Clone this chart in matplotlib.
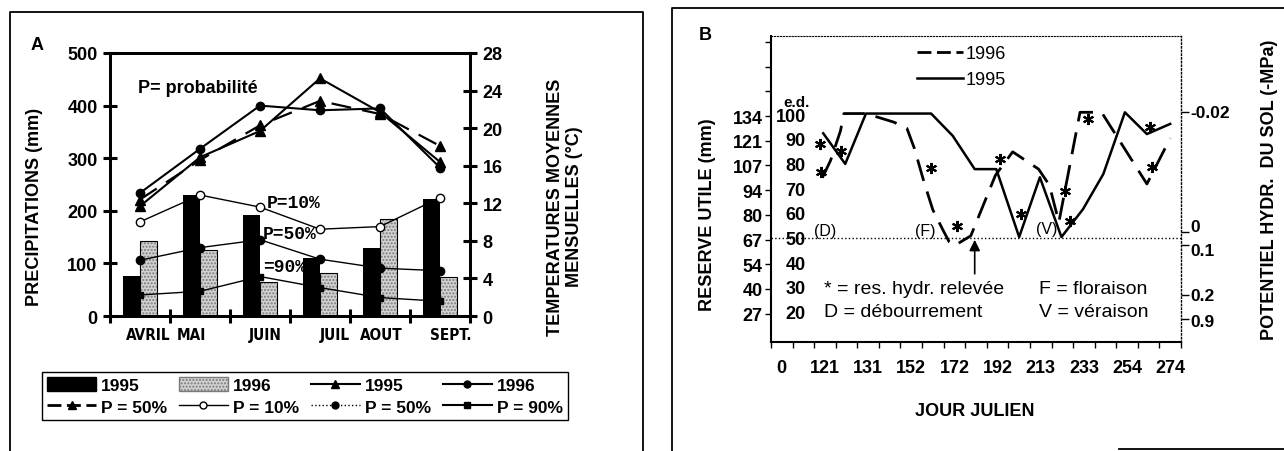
import numpy as np
import matplotlib.pyplot as plt
import matplotlib.transforms as mtransforms
from matplotlib import font_manager
from matplotlib.lines import Line2D
from matplotlib.patches import Patch

plt.rcParams['font.family'] = ['Liberation Sans', 'DejaVu Sans']
plt.rcParams['font.weight'] = 'bold'
fonts = font_manager.fontManager.ttflist
has_narrow = any(f.name == 'Liberation Sans Narrow' for f in fonts)
has_cond = any(f.name == 'DejaVu Sans' and f.stretch == 'condensed' and f.weight == 700
               for f in fonts)

# panel A: monthly rain (mm) and mean temperature (deg C)
months = ['AVRIL', 'MAI', 'JUIN', 'JUIL', 'AOUT', 'SEPT.']
rain_1995 = [76, 230, 192, 110, 130, 222]
rain_1996 = [143, 125, 65, 82, 184, 74]
rain_p10 = [179, 230, 207, 165, 170, 225]
rain_p50 = [106, 130, 145, 108, 91, 86]
rain_p90 = [40, 47, 75, 54, 35, 28]
temp_1995 = [11.7, 16.9, 19.7, 25.3, 21.7, 16.4]
temp_1996 = [13.1, 17.8, 22.4, 21.9, 22.1, 15.8]
temp_p50 = [12.4, 16.6, 20.3, 22.9, 21.5, 18.1]

# panel B: water reserve on the e.d. scale, x = position on the julian day axis
day_labels = ['0', '121', '131', '152', '172', '192', '213', '233', '254', '274']
x_1995 = [0.96, 1.47, 1.95, 3.46, 3.96, 4.47, 4.97, 5.50, 5.98, 6.48, 6.98, 7.45, 7.95, 8.46, 9.0]
ed_1995 = [93, 80.6, 101, 101, 92, 78.5, 78.5, 51, 75.2, 51, 62.3, 76.5, 101.5, 92.7, 96.8]
x_1996 = [0.94, 1.13, 1.36, 1.44, 1.95, 2.6, 2.9, 3.07, 3.3, 3.5, 3.73, 3.88, 4.0, 4.38,
          4.95, 5.35, 5.95, 6.2, 6.42, 6.91, 7.41, 8.46, 9.0]
ed_1996 = [75, 82, 94, 101, 101, 97.5, 95, 87, 73, 62, 54, 49, 47.5, 51.5,
           76, 85.5, 78.5, 72, 57, 101.5, 101.5, 72.5, 91]
star_x = [0.88, 0.9, 1.37, 3.46, 4.05, 5.05, 5.55, 6.56, 6.67, 7.1, 8.53, 8.57]
star_ed = [88.7, 77.2, 86.0, 78.8, 55.6, 82.6, 60.3, 69.8, 57.6, 98.8, 95.4, 79.2]
ed_ticks = [100, 90, 80, 70, 60, 50, 40, 30, 20]
ru_labels = ['134', '121', '107', '94', '80', '67', '54', '40', '27']
psi_ed = [101.5, 53.2, 47.8, 27.5, 17.8]
psi_label_ed = [101.5, 55.2, 45.6, 27.5, 16.6]
psi_labels = ['-0.02', '0', '0.1', '0.2', '0.9']

W, H = 1284, 452
fig = plt.figure(figsize=(W / 100, H / 100), dpi=100)

def fbox(x0, y0, x1, y1):
    return [x0 / W, 1 - y1 / H, (x1 - x0) / W, (y1 - y0) / H]

# panel frames
for xs, ys in [([10, 10, 643, 643], [452, 13, 13, 452]),
               ([672, 672, 1284], [452, 9, 9]),
               ([1119, 1284], [450, 450])]:
    fig.add_artist(Line2D([x / W for x in xs], [1 - y / H for y in ys],
                          color='black', lw=1.3, transform=fig.transFigure))

# ---------------- panel A ----------------
axA = fig.add_axes(fbox(110, 54, 470, 317))
pos = np.arange(len(months)) + 0.5
axA.bar(pos - 0.14, rain_1995, width=0.28, color='black', zorder=2)
axA.bar(pos + 0.14, rain_1996, width=0.28, color='#d2d2d2', edgecolor='#7a7a7a',
        hatch='.....', linewidth=0, zorder=2)
axA.bar(pos + 0.14, rain_1996, width=0.28, fill=False, edgecolor='black',
        linewidth=0.8, zorder=2)
axA.plot(pos, rain_p10, '-o', color='black', mfc='white', ms=6, lw=1, zorder=3)
axA.plot(pos, rain_p50, '-o', color='black', ms=6, lw=1, zorder=3)
axA.plot(pos, rain_p90, '-s', color='black', ms=5, lw=1, zorder=3)
axA.set_xlim(0, 6)
axA.set_ylim(0, 500)
axA.set_yticks(range(0, 501, 100))
axA.set_xticks(range(7))
axA.set_xticklabels([])
month_x = [0.63, 1.35, 2.58, 3.75, 4.53, 5.68]
axA.set_xticks(month_x, months, minor=True)
if has_narrow:
    mfont = dict(family='Liberation Sans Narrow', size=13, weight='bold')
elif has_cond:
    mfont = dict(family='DejaVu Sans', stretch='condensed', size=11, weight='bold')
else:
    mfont = dict(size=11, weight='bold')
for lab in axA.get_xticklabels(minor=True):
    lab.set(**mfont)
axA.tick_params(axis='x', which='minor', length=0, pad=8)
axA.tick_params(axis='both', which='major', direction='inout', length=10, width=2.2,
                labelsize=13)
axA.tick_params(axis='y', pad=4)
for s in axA.spines.values():
    s.set_linewidth(2)

axT = axA.twinx()
axT.set_ylim(0, 28)
axT.set_yticks(range(0, 29, 4))
axT.tick_params(direction='inout', length=10, width=2.2, labelsize=13, pad=4)
for s in axT.spines.values():
    s.set_linewidth(2)
axT.plot(pos, temp_1995, '-^', color='black', ms=7, lw=1.5)
axT.plot(pos, temp_1996, '-o', color='black', ms=6, lw=1.5)
axT.plot(pos, temp_p50, '-^', color='black', ms=7, lw=1.6, dashes=(9, 5))

axA.text(0.47, 435, 'P= probabilité', fontsize=13, va='center')
mono = dict(family='Liberation Mono', fontsize=13, weight='bold', va='center')
axA.text(2.62, 216, 'P=10%', **mono)
axA.text(2.55, 157, 'P=50%', **mono)
axA.text(2.55, 94, '=90%', **mono)

fig.text(37 / W, 1 - 45 / H, 'A', fontsize=13, ha='center', va='center')
fig.text(35 / W, 1 - 207 / H, 'PRECIPITATIONS (mm)', rotation=90, fontsize=13,
         ha='center', va='center')
fig.text(565 / W, 1 - 207 / H, 'TEMPERATURES MOYENNES\nMENSUELLES (°C)', rotation=90,
         fontsize=13, ha='center', va='center', multialignment='center', linespacing=1.1)

hA = [Patch(facecolor='black', edgecolor='black'),
      Line2D([], [], color='black', marker='^', ms=6, lw=2, dashes=(5, 2)),
      Patch(facecolor='#d2d2d2', edgecolor='#7a7a7a', hatch='.....'),
      Line2D([], [], color='black', marker='o', mfc='white', ms=5, lw=1),
      Line2D([], [], color='black', marker='^', ms=6, lw=1.5),
      Line2D([], [], color='black', marker='o', ms=5, lw=1, ls=':'),
      Line2D([], [], color='black', marker='o', ms=5, lw=1.5),
      Line2D([], [], color='black', marker='s', ms=5, lw=1.5)]
lA = ['1995', 'P = 50%', '1996', 'P = 10%', '1995', 'P = 50%', '1996', 'P = 90%']
legA = fig.legend(hA, lA, ncol=4, loc='lower left', mode='expand',
                  bbox_to_anchor=fbox(42, 362, 568, 421), borderaxespad=0,
                  fontsize=12.5, handlelength=2.8, handleheight=0.8,
                  handletextpad=0.3, columnspacing=0.6, labelspacing=0.35,
                  borderpad=0.3, fancybox=False, framealpha=1)
legA.get_frame().set_edgecolor('black')
legA.get_frame().set_linewidth(1)

# ---------------- panel B ----------------
axB = fig.add_axes(fbox(771, 37, 1181, 343))
axB.set_xlim(-0.25, 9.25)
axB.set_ylim(8.5, 132.4)
axB.axhline(50.8, color='black', lw=1, ls=':')
axB.plot(x_1996, ed_1996, color='black', lw=2, dashes=(8, 4))
axB.plot(x_1995, ed_1995, color='black', lw=1.8)
axB.plot(star_x, star_ed, ls='none', marker=(6, 2, 0), ms=8, mew=1.5, color='black')

axB.set_xticks(np.arange(-0.25, 9.3, 0.5))
axB.set_xticklabels([])
axB.set_xticks(range(len(day_labels)), day_labels, minor=True)
axB.tick_params(axis='x', which='major', direction='out', length=4, width=1)
axB.tick_params(axis='x', which='minor', length=0, pad=12, labelsize=13)
axB.set_yticks(ed_ticks + [110, 120, 130])
axB.set_yticklabels(ru_labels + ['', '', ''])
axB.tick_params(axis='y', direction='out', length=4, width=1, labelsize=13, pad=2)
axB.spines['left'].set_linewidth(1.5)
axB.spines['bottom'].set_linewidth(1.5)
axB.spines['top'].set_linestyle(':')
axB.spines['right'].set_linestyle(':')
axB.spines['right'].set_linewidth(1)

# right axis: soil water potential, ticks on the same e.d. scale
axP = axB.twinx()
axP.set_ylim(8.5, 132.4)
axP.set_yticks(psi_ed)
axP.set_yticklabels([])
axP.tick_params(direction='out', length=6, width=1)
for k in ['left', 'top', 'bottom', 'right']:
    axP.spines[k].set_visible(False)

trB = mtransforms.blended_transform_factory(axB.transAxes, axB.transData)
for y, lab in zip(psi_label_ed, psi_labels):
    axB.text(1.024, y, lab, transform=trB, ha='left', va='center', fontsize=12.5)
for e in ed_ticks:
    axB.text(0.085, e, str(e), transform=trB, ha='right', va='center', fontsize=13)
axB.text(0.062, 105.7, 'e.d.', transform=trB, ha='center', va='center', fontsize=11)

note = dict(fontsize=11.5, weight='normal', ha='center', va='center')
axB.text(1.0, 53.6, '(D)', **note)
axB.text(3.33, 53.6, '(F)', **note)
axB.text(6.14, 54.3, '(V)', **note)

axB.annotate('', xy=(4.47, 51), xytext=(4.47, 35),
             arrowprops=dict(arrowstyle='-|>', color='black', lw=1.2, mutation_scale=16))

txt = dict(fontsize=14, weight='normal', ha='left', va='center')
axB.text(0.98, 30, '* = res. hydr. relevée', **txt)
axB.text(5.95, 30, 'F = floraison', **txt)
axB.text(0.98, 21, 'D = débourrement', **txt)
axB.text(5.95, 21, 'V = véraison', **txt)

hB = [Line2D([], [], color='black', lw=2, dashes=(5, 2)),
      Line2D([], [], color='black', lw=1.8)]
legB = axB.legend(hB, ['1996', '1995'], loc='upper left', bbox_to_anchor=(0.355, 0.97),
                  frameon=False, borderpad=0, borderaxespad=0, handlelength=2.6,
                  handletextpad=0.1, labelspacing=0.5,
                  prop=dict(size=13, weight='normal'))

fig.text(705 / W, 1 - 35 / H, 'B', fontsize=13, ha='center', va='center')
fig.text(707 / W, 1 - 215 / H, 'RESERVE UTILE (mm)', rotation=90, fontsize=13,
         ha='center', va='center')
fig.text(1270 / W, 1 - 190 / H, 'POTENTIEL HYDR.  DU SOL (-MPa)', rotation=90,
         fontsize=13, ha='center', va='center')
fig.text(975 / W, 1 - 412 / H, 'JOUR JULIEN', fontsize=13, ha='center', va='center')

fig.savefig('out.png', dpi=100)
